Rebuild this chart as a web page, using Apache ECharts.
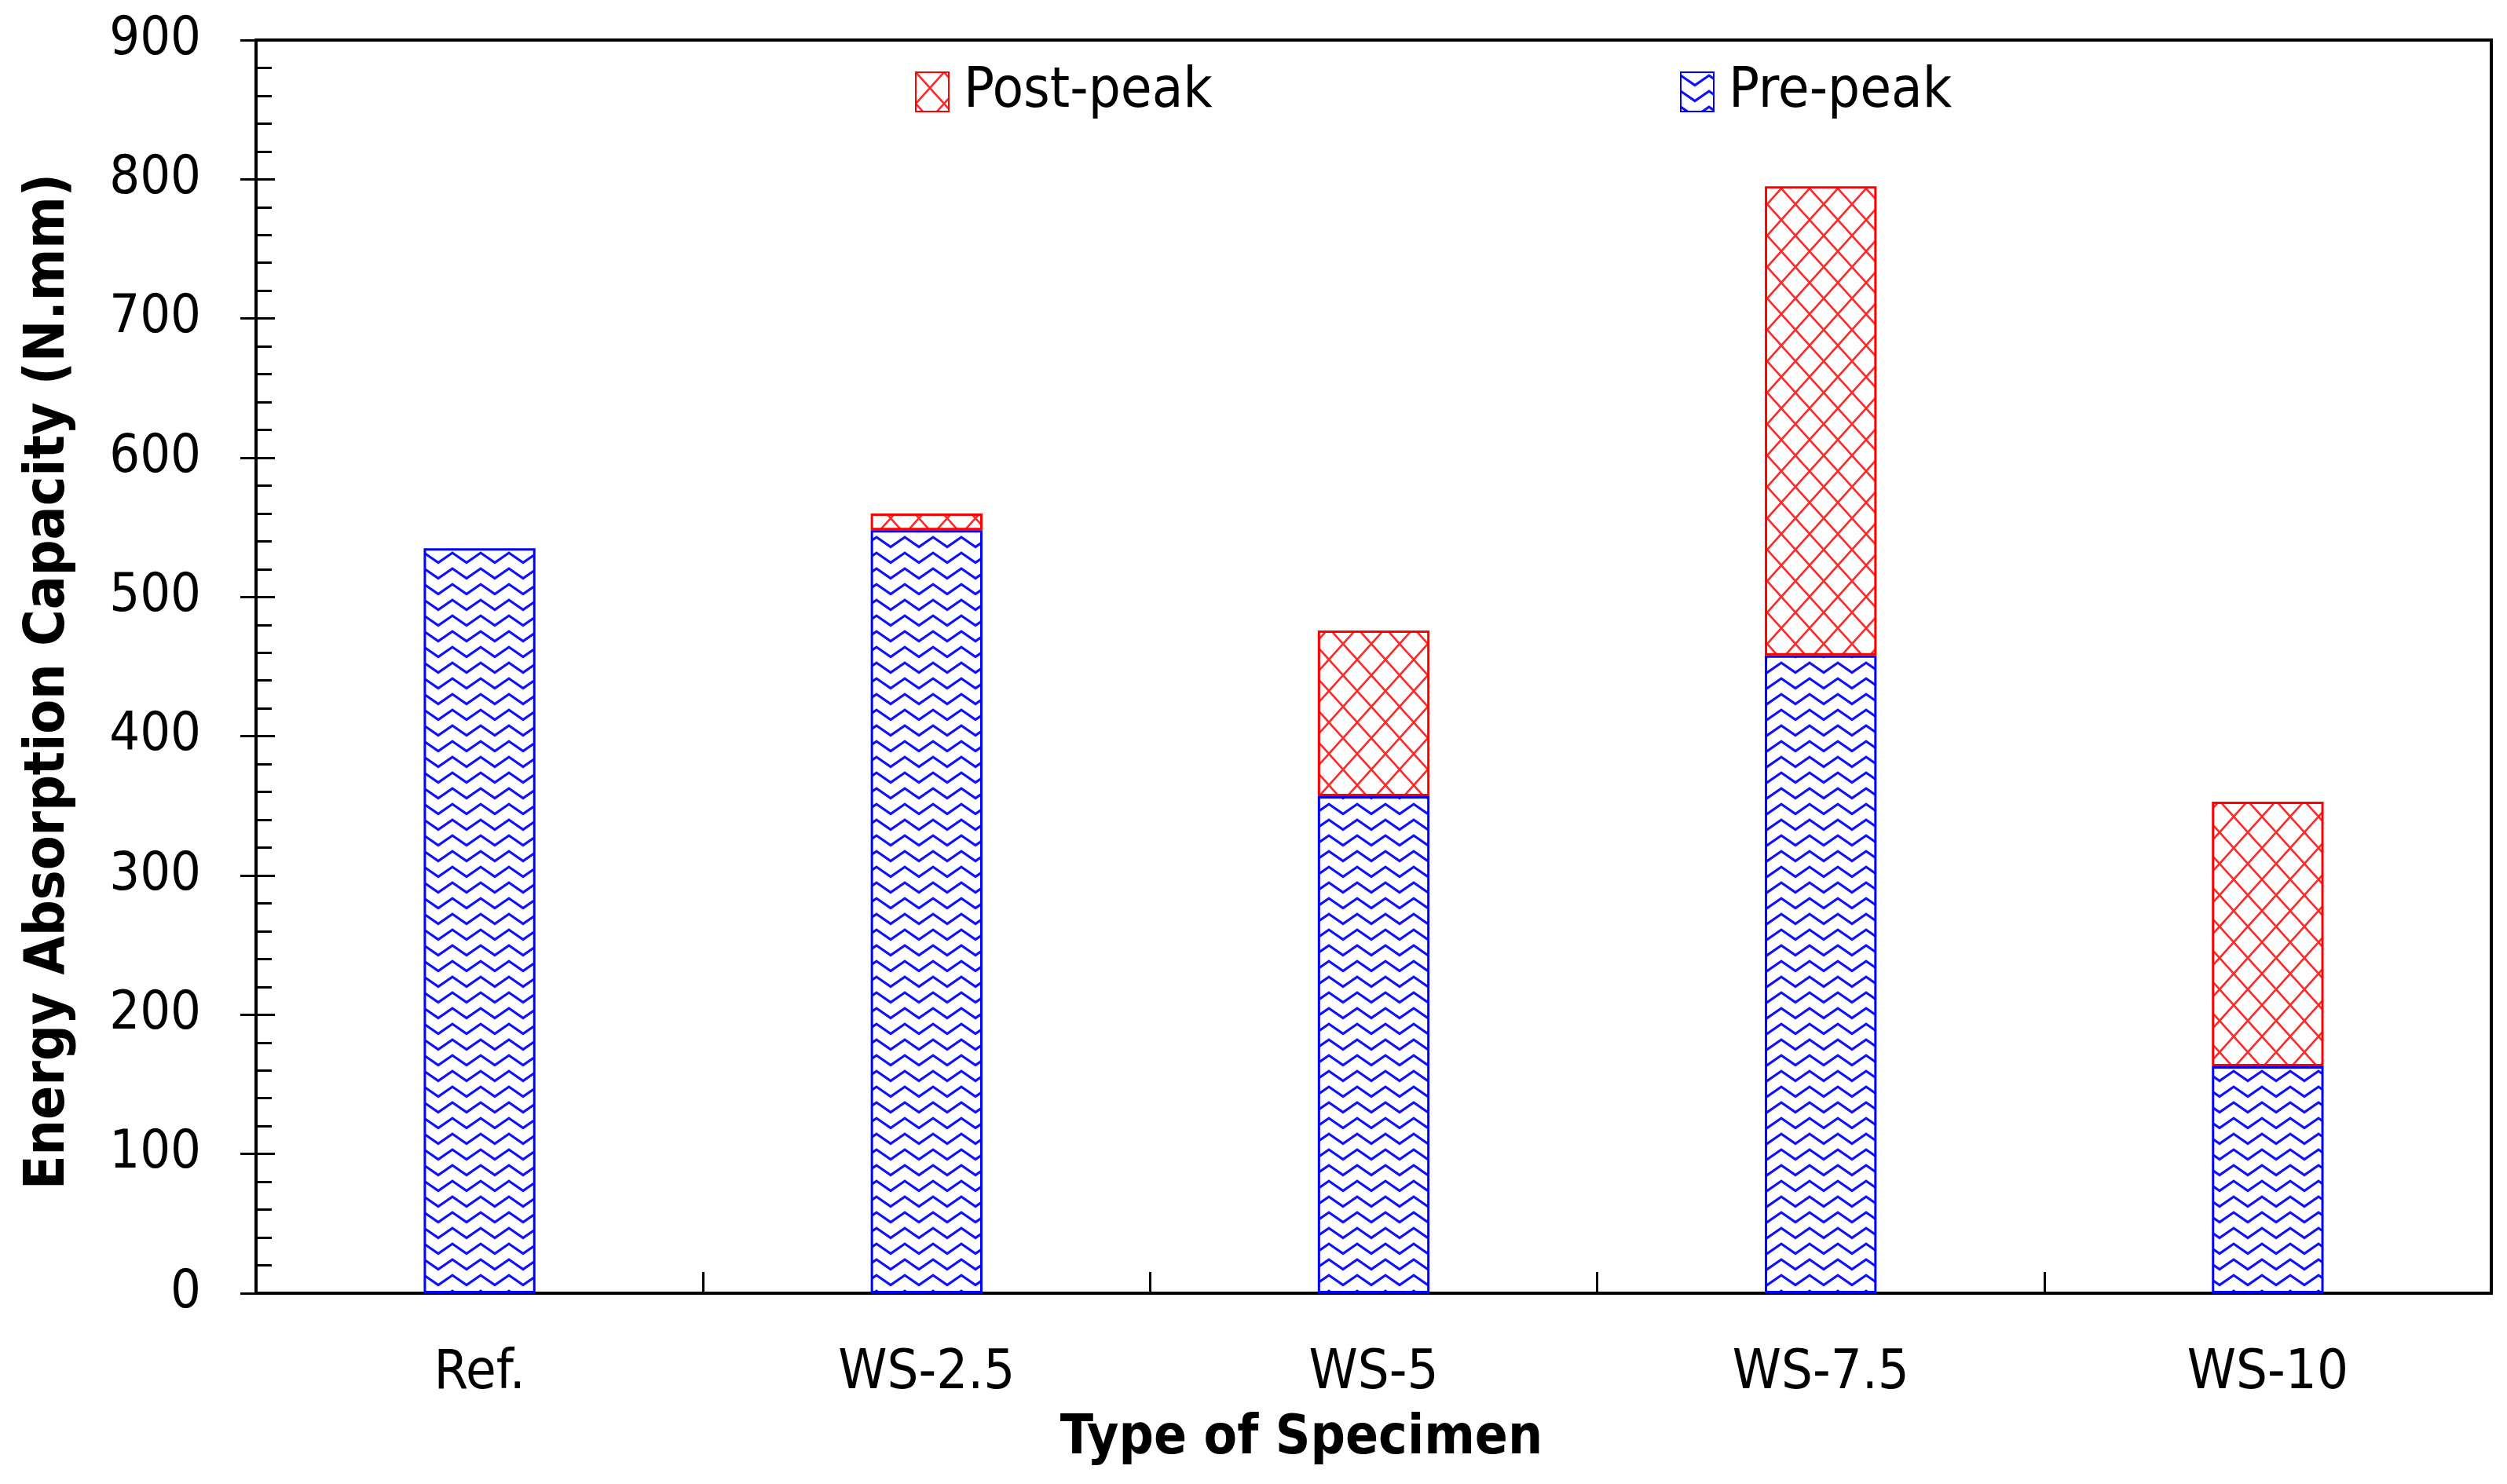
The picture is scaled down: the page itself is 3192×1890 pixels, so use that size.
<!DOCTYPE html>
<html><head><meta charset="utf-8">
<script src="https://cdn.jsdelivr.net/npm/echarts@6/dist/echarts.min.js"></script>
<style>html,body{margin:0;padding:0;background:#fff}#c{width:3192px;height:1890px}</style>
</head><body><div id="c"></div>
<script>
const categories = ['Ref.', 'WS-2.5', 'WS-5', 'WS-7.5', 'WS-10'];
const prePeak = [535, 548, 357, 458, 163];
const postPeak = [0, 12, 119, 337, 190];
const yMin = 0, yMax = 900, yStep = 100;
const seriesNames = ['Pre-peak', 'Post-peak'];

const FONT = "'DejaVu Sans Condensed', 'Liberation Sans', sans-serif";

function zigzag() {
  const c = document.createElement('canvas'); c.width = 36; c.height = 20;
  const g = c.getContext('2d');
  g.strokeStyle = '#1010ff'; g.lineWidth = 3.2; g.lineJoin = 'miter';
  g.beginPath(); g.moveTo(-1, 3.5); g.lineTo(18, 16.5); g.lineTo(37, 3.5); g.stroke();
  return c;
}
function crosshatch() {
  const c = document.createElement('canvas'); c.width = 36; c.height = 40;
  const g = c.getContext('2d');
  g.strokeStyle = '#ff2a2a'; g.lineWidth = 2.6;
  g.beginPath();
  g.moveTo(-18, -20); g.lineTo(54, 60);
  g.moveTo(54, -20); g.lineTo(-18, 60);
  g.stroke();
  return c;
}

const chart = echarts.init(document.getElementById('c'), null, {renderer: 'canvas'});
const blueFill = {image: zigzag(), repeat: 'repeat'};
const redFill = {image: crosshatch(), repeat: 'repeat'};

const tickStyle = {color: '#000', width: 3};
const option = {
  backgroundColor: '#fff',
  animation: false,
  grid: {left: 326, right: 20, top: 51, bottom: 243, show: true, borderColor: '#000', borderWidth: 4, backgroundColor: 'transparent'},
  legend: [
    {data: [seriesNames[1]], left: 1160, top: 76, itemWidth: 42, itemHeight: 50, icon: 'rect', itemGap: 10,
     textStyle: {fontFamily: FONT, fontSize: 72, color: '#000', padding: [0, 0, 0, 14]}},
    {data: [seriesNames[0]], left: 2134, top: 76, itemWidth: 42, itemHeight: 50, icon: 'rect',
     textStyle: {fontFamily: FONT, fontSize: 72, color: '#000', padding: [0, 0, 0, 14]}}
  ],
  xAxis: {
    type: 'category', data: categories,
    axisLine: {lineStyle: {color: '#000', width: 4}},
    axisTick: {show: true, inside: true, length: 27, lineStyle: tickStyle},
    axisLabel: {fontFamily: FONT, fontSize: 70, color: '#000', margin: 68},
    name: 'Type of Specimen', nameLocation: 'middle', nameGap: 152,
    nameTextStyle: {fontFamily: FONT, fontWeight: 'bold', fontSize: 69, color: '#000', padding: [0, 184, 0, 0]}
  },
  yAxis: [
    {
      type: 'value', min: yMin, max: yMax, interval: yStep,
      axisLine: {show: true, lineStyle: {color: '#000', width: 4}},
      axisTick: {show: true, inside: true, length: 24, lineStyle: tickStyle},
      minorTick: {show: true, splitNumber: 5, length: 20, lineStyle: tickStyle},
      splitLine: {show: false},
      axisLabel: {fontFamily: FONT, fontSize: 68, color: '#000', margin: 70},
      name: 'Energy Absorption Capacity (N.mm)', nameLocation: 'middle', nameGap: 228,
      nameTextStyle: {fontFamily: FONT, fontWeight: 'bold', fontSize: 71, color: '#000', padding: [0, 38, 0, 0]}
    },
    {
      type: 'value', min: yMin, max: yMax, interval: yStep, position: 'left',
      axisLine: {show: false},
      axisTick: {show: true, inside: false, length: 20, lineStyle: tickStyle},
      axisLabel: {show: false}, splitLine: {show: false}
    }
  ],
  series: [
    {name: seriesNames[0], type: 'bar', stack: 'e', barWidth: '25%', data: prePeak,
     itemStyle: {color: blueFill, borderColor: '#0000ff', borderWidth: 3}},
    {name: seriesNames[1], type: 'bar', stack: 'e', barWidth: '25%', data: postPeak.map(v => v === 0 ? '-' : v),
     itemStyle: {color: redFill, borderColor: '#ff0000', borderWidth: 3}}
  ]
};
chart.setOption(option);
</script></body></html>
